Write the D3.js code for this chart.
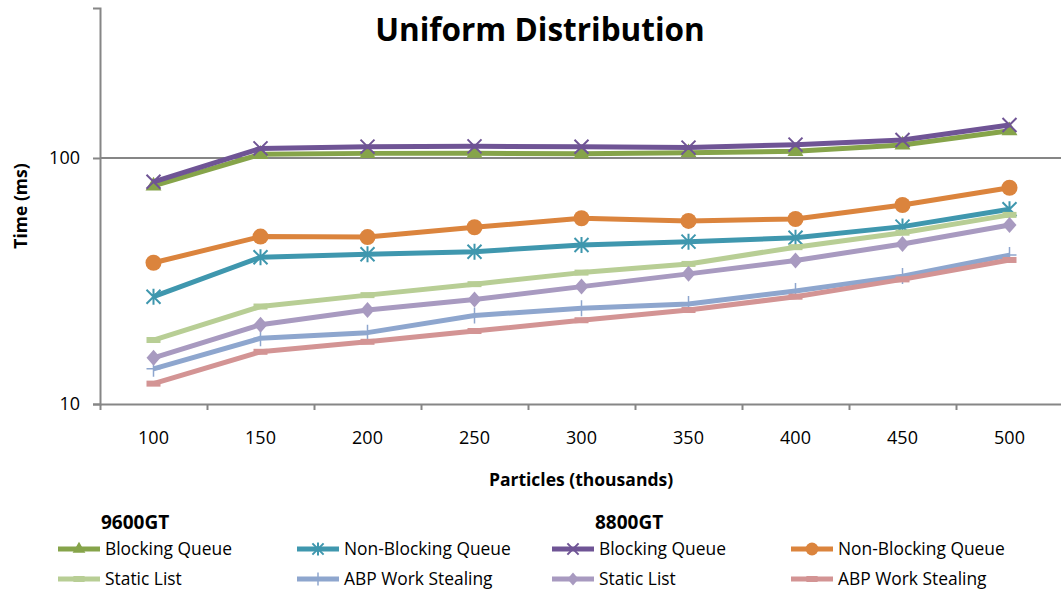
<!DOCTYPE html>
<html>
<head>
<meta charset="utf-8">
<script src="https://cdn.jsdelivr.net/npm/d3@7"></script>
<style>
  body { margin: 0; background: #fff; }
  svg text { font-family: "Open Sans", "Liberation Sans", sans-serif; fill: #000; }
</style>
</head>
<body>
<div id="chart"></div>
<script>
// Particles (thousands)
const categories = ["100", "150", "200", "250", "300", "350", "400", "450", "500"];

// 9600GT timings (ms)
const blocking9600    = [77, 103.5, 104.4, 104.5, 104, 105.1, 106.4, 112.9, 129.1];
const nonBlocking9600 = [27.3, 39.5, 40.6, 41.6, 44.3, 45.7, 47.4, 52.6, 61.9];
const staticList9600  = [18.2, 24.9, 27.7, 30.7, 34.2, 37.1, 43.4, 49.7, 58.7];
const abp9600         = [13.9, 18.5, 19.5, 22.9, 24.5, 25.5, 28.8, 33.1, 40.3];

// 8800GT timings (ms)
const blocking8800    = [80, 109.4, 111.2, 111.5, 111, 110.2, 113.3, 118.4, 136.2];
const nonBlocking8800 = [37.5, 47.9, 47.7, 52.3, 56.9, 55.5, 56.5, 64.4, 75.7];
const staticList8800  = [15.4, 21.0, 24.1, 26.6, 30.0, 33.8, 38.3, 44.7, 53.4];
const abp8800         = [12.1, 16.3, 17.9, 19.8, 21.9, 24.1, 27.3, 32.1, 38.5];

const yTickValues = [10, 100];

const series = [
  {group: "9600GT", name: "Blocking Queue",     values: blocking9600,    color: "#86A44A", marker: "triangle"},
  {group: "9600GT", name: "Non-Blocking Queue", values: nonBlocking9600, color: "#3F97AE", marker: "asterisk"},
  {group: "9600GT", name: "Static List",        values: staticList9600,  color: "#B8CE95", marker: "dash"},
  {group: "9600GT", name: "ABP Work Stealing",  values: abp9600,         color: "#8EA6CE", marker: "plus"},
  {group: "8800GT", name: "Blocking Queue",     values: blocking8800,    color: "#6F5495", marker: "cross"},
  {group: "8800GT", name: "Non-Blocking Queue", values: nonBlocking8800, color: "#DB843D", marker: "circle"},
  {group: "8800GT", name: "Static List",        values: staticList8800,  color: "#A89AC0", marker: "diamond"},
  {group: "8800GT", name: "ABP Work Stealing",  values: abp8800,         color: "#D39494", marker: "dash"}
];

const W = 1061, H = 591;
const plot = {left: 100, right: 1063, top: 8, bottom: 404};
const axisColor = "#868686";

const svg = d3.select("#chart").append("svg")
    .attr("width", W)
    .attr("height", H);

const x = d3.scaleBand()
    .domain(categories)
    .range([plot.left, plot.right]);

// boundaries between categories, for the tick marks
const xEdge = d3.scaleLinear()
    .domain([0, categories.length])
    .range([plot.left, plot.right]);

const y = d3.scaleLog()
    .domain([10, 407])
    .range([plot.bottom, plot.top]);

// gridline at 100
svg.append("g")
    .selectAll("line")
    .data(yTickValues.filter(v => v > 10))
    .join("line")
    .attr("x1", plot.left)
    .attr("x2", W)
    .attr("y1", d => y(d))
    .attr("y2", d => y(d))
    .attr("stroke", axisColor)
    .attr("stroke-width", 2);

// y axis
const yAxis = svg.append("g")
    .attr("transform", `translate(${plot.left},0)`)
    .call(d3.axisLeft(y).tickValues(yTickValues).tickFormat(d3.format("d")).tickSize(7).tickPadding(13));
yAxis.select(".domain").attr("stroke", axisColor).attr("stroke-width", 2);
yAxis.selectAll(".tick line").attr("stroke", axisColor).attr("stroke-width", 2);
yAxis.selectAll("text").attr("font-size", 18).attr("font-family", "Open Sans");

// x axis: tick marks at category edges
const xTicks = svg.append("g")
    .attr("transform", `translate(0,${plot.bottom})`)
    .call(d3.axisBottom(xEdge).tickValues(d3.range(categories.length + 1)).tickFormat("").tickSize(6).tickSizeOuter(0));
xTicks.select(".domain").attr("stroke", axisColor).attr("stroke-width", 2);
xTicks.selectAll(".tick line").attr("stroke", axisColor).attr("stroke-width", 2);

// x axis labels at category centres
const xLabels = svg.append("g")
    .attr("transform", `translate(0,${plot.bottom})`)
    .call(d3.axisBottom(x).tickSize(0).tickPadding(27));
xLabels.select(".domain").remove();
xLabels.selectAll("text").attr("font-size", 18).attr("font-family", "Open Sans");

// axis titles
svg.append("text")
    .attr("x", 581)
    .attr("y", 486)
    .attr("text-anchor", "middle")
    .attr("font-size", 17.5)
    .attr("font-weight", "bold")
    .text("Particles (thousands)");

svg.append("text")
    .attr("transform", `translate(27,${(plot.top + plot.bottom) / 2}) rotate(-90)`)
    .attr("text-anchor", "middle")
    .attr("font-size", 17.5)
    .attr("font-weight", "bold")
    .text("Time (ms)");

// title
svg.append("text")
    .attr("x", 540)
    .attr("y", 41)
    .attr("text-anchor", "middle")
    .attr("font-size", 31.5)
    .attr("font-weight", "bold")
    .text("Uniform Distribution");

// marker shapes
function drawMarker(g, type, color, s) {
  if (type === "triangle") {
    g.append("path").attr("d", d3.symbol(d3.symbolTriangle, 110 * s * s)()).attr("fill", color);
  } else if (type === "circle") {
    g.append("circle").attr("r", 8 * s).attr("fill", color);
  } else if (type === "diamond") {
    g.append("path").attr("d", `M0,${-8 * s}L${7 * s},0L0,${8 * s}L${-7 * s},0Z`).attr("fill", color);
  } else if (type === "dash") {
    g.append("rect").attr("x", -7 * s).attr("y", -3).attr("width", 14 * s).attr("height", 6).attr("fill", color);
  } else if (type === "plus") {
    g.append("path").attr("d", `M0,${-8 * s}V${8 * s}M${-7 * s},0H${7 * s}`).attr("stroke", color).attr("stroke-width", 1.5);
  } else if (type === "cross") {
    g.append("path").attr("d", `M${-7 * s},${-7 * s}L${7 * s},${7 * s}M${7 * s},${-7 * s}L${-7 * s},${7 * s}`)
      .attr("stroke", color).attr("stroke-width", 2);
  } else if (type === "asterisk") {
    g.append("path").attr("d", `M${-7 * s},${-7 * s}L${7 * s},${7 * s}M${7 * s},${-7 * s}L${-7 * s},${7 * s}M0,${-8 * s}V${8 * s}`)
      .attr("stroke", color).attr("stroke-width", 2);
  }
}

const line = d3.line()
    .x((d, i) => x(categories[i]) + x.bandwidth() / 2)
    .y(d => y(d));

series.forEach(s => {
  const g = svg.append("g");
  g.append("path")
      .datum(s.values)
      .attr("d", line)
      .attr("fill", "none")
      .attr("stroke", s.color)
      .attr("stroke-width", 5)
      .attr("stroke-linejoin", "round");
  s.values.forEach((v, i) => {
    const m = g.append("g")
        .attr("transform", `translate(${x(categories[i]) + x.bandwidth() / 2},${y(v)})`);
    drawMarker(m, s.marker, s.color, 1);
  });
});

// legend
const legendCols = [
  {group: "9600GT", x: 58},
  {group: "8800GT", x: 552}
];
legendCols.forEach(col => {
  svg.append("text")
      .attr("x", col.x + 43)
      .attr("y", 529)
      .attr("font-size", 19)
      .attr("font-weight", "bold")
      .text(col.group);
  series.filter(s => s.group === col.group).forEach((s, i) => {
    const lx = col.x + (i % 2) * 239;
    const ly = 549 + Math.floor(i / 2) * 30;
    const g = svg.append("g");
    g.append("line")
        .attr("x1", lx).attr("x2", lx + 42)
        .attr("y1", ly).attr("y2", ly)
        .attr("stroke", s.color)
        .attr("stroke-width", 5);
    const m = g.append("g").attr("transform", `translate(${lx + 21},${ly})`);
    drawMarker(m, s.marker, s.color, 0.8);
    g.append("text")
        .attr("x", lx + 47)
        .attr("y", ly + 6)
        .attr("font-size", 17.4)
        .text(s.name);
  });
});
</script>
</body>
</html>
